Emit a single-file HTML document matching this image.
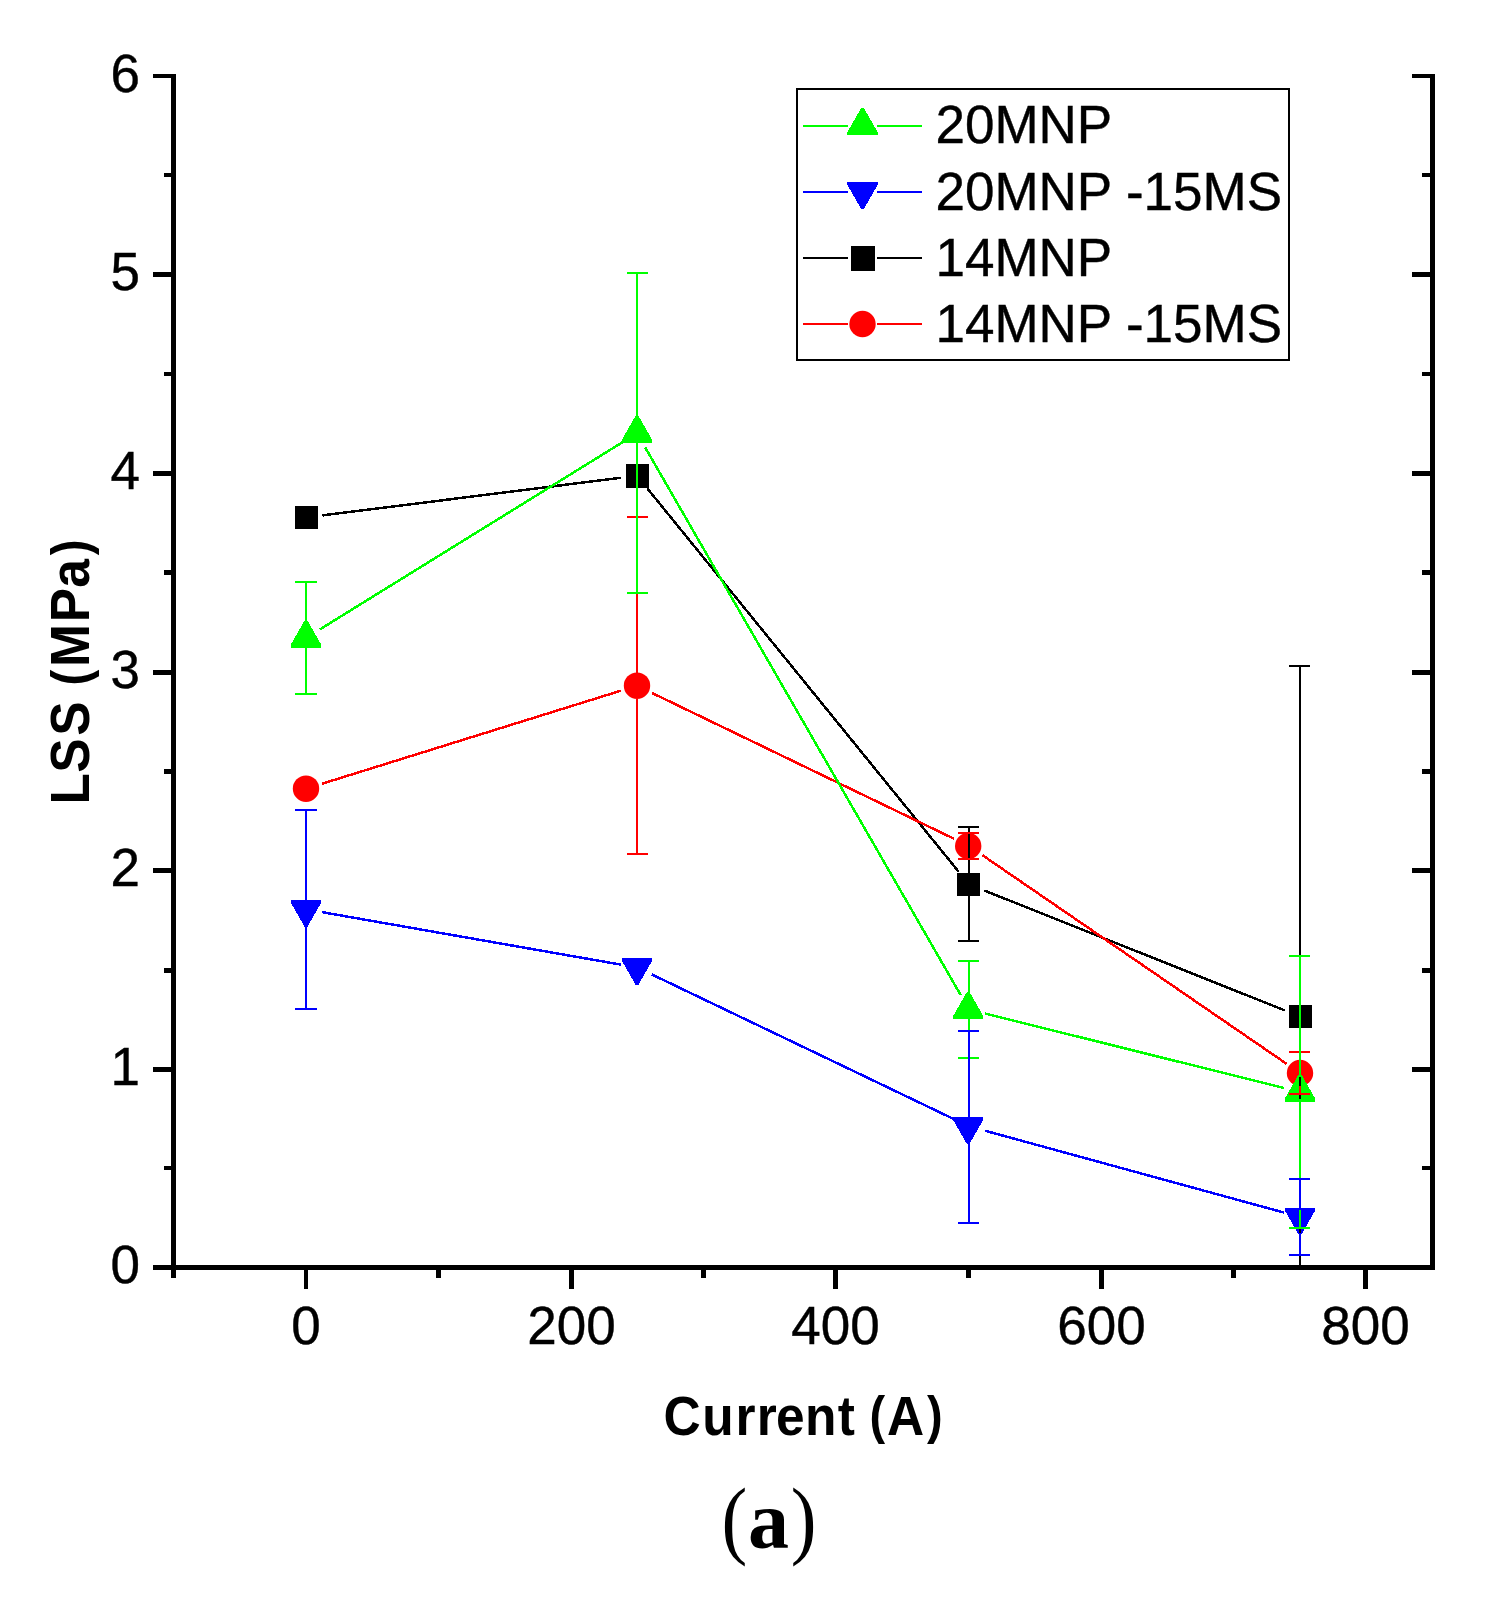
<!DOCTYPE html>
<html lang="en"><head><meta charset="utf-8"><title>LSS vs Current (a)</title>
<style>
html,body{margin:0;padding:0;background:#fff;}
body{width:1492px;height:1600px;overflow:hidden;}
svg{display:block;}
.t{font-family:"Liberation Sans",sans-serif;font-size:53px;fill:#000;stroke:#000;stroke-width:0.4px;}
.tb{font-family:"Liberation Sans",sans-serif;font-size:53px;font-weight:bold;fill:#000;}
.s{font-family:"Liberation Serif",serif;fill:#000;}
</style></head><body>
<svg width="1492" height="1600" viewBox="0 0 1492 1600">
<rect x="0" y="0" width="1492" height="1600" fill="#fff"/>
<defs><clipPath id="cp"><rect x="173.5" y="74.0" width="1259.0" height="1193.5"/></clipPath></defs>
<g shape-rendering="crispEdges" clip-path="url(#cp)">
<g stroke="#000000" stroke-width="2.5" fill="none">
<line x1="322.4" y1="515.4" x2="620.6" y2="477.8"/>
<line x1="647.4" y1="488.5" x2="958.6" y2="871.6"/>
<line x1="984.3" y1="890.5" x2="1284.7" y2="1010.4"/>
</g>
<rect x="295.0" y="506.0" width="23" height="23" fill="#000000"/>
<rect x="626.0" y="464" width="23" height="24" fill="#000000"/>
<rect x="957.2" y="872.9" width="23" height="23" fill="#000000"/>
<rect x="1289.0" y="1005.0" width="23" height="23" fill="#000000"/>
<g stroke="#ff0000" stroke-width="2.5" fill="none">
<line x1="321.8" y1="783.8" x2="621.2" y2="690.6"/>
<line x1="651.9" y1="692.9" x2="954.1" y2="838.8"/>
<line x1="982.6" y1="855.3" x2="1286.4" y2="1063.7"/>
</g>
<circle cx="306.0" cy="788.7" r="13.2" fill="#ff0000" shape-rendering="geometricPrecision"/>
<circle cx="637.0" cy="685.7" r="13.2" fill="#ff0000" shape-rendering="geometricPrecision"/>
<circle cx="968.2" cy="846.0" r="13.2" fill="#ff0000" shape-rendering="geometricPrecision"/>
<circle cx="1300.0" cy="1073.0" r="13.2" fill="#ff0000" shape-rendering="geometricPrecision"/>
<g stroke="#00ff00" stroke-width="2.5" fill="none">
<line x1="320.0" y1="629.3" x2="623.0" y2="441.9"/>
<line x1="645.2" y1="447.5" x2="960.8" y2="995.2"/>
<line x1="985.0" y1="1013.5" x2="1284.0" y2="1088.0"/>
</g>
<polygon points="304.6,620.5 307.4,620.5 321.1,644.5 321.1,647.5 290.9,647.5 290.9,644.5" fill="#00ff00"/>
<polygon points="635.6,415.7 638.4,415.7 652.1,439.7 652.1,442.7 621.9,442.7 621.9,439.7" fill="#00ff00"/>
<polygon points="966.8,992.0 969.6,992.0 983.3,1016.0 983.3,1019.0 953.1,1019.0 953.1,1016.0" fill="#00ff00"/>
<polygon points="1298.6,1074.5 1301.4,1074.5 1315.1,1098.5 1315.1,1101.5 1284.9,1101.5 1284.9,1098.5" fill="#00ff00"/>
<g stroke="#0000ff" stroke-width="2.5" fill="none">
<line x1="322.3" y1="912.2" x2="620.7" y2="964.6"/>
<line x1="651.9" y1="974.5" x2="954.1" y2="1119.2"/>
<line x1="984.9" y1="1130.7" x2="1284.1" y2="1212.6"/>
</g>
<polygon points="290.9,899.9 321.1,899.9 321.1,902.9 307.4,926.9 304.6,926.9 290.9,902.9" fill="#0000ff"/>
<polygon points="621.9,957.9 652.1,957.9 652.1,960.9 638.4,984.9 635.6,984.9 621.9,960.9" fill="#0000ff"/>
<polygon points="953.1,1116.8 983.3,1116.8 983.3,1119.8 969.6,1143.8 966.8,1143.8 953.1,1119.8" fill="#0000ff"/>
<polygon points="1284.9,1207.5 1315.1,1207.5 1315.1,1210.5 1301.4,1234.5 1298.6,1234.5 1284.9,1210.5" fill="#0000ff"/>
<g stroke="#000000" stroke-width="2" fill="none">
<line x1="969.0" y1="827.2" x2="969.0" y2="872.9"/>
<line x1="969.0" y1="895.9" x2="969.0" y2="940.8"/>
<line x1="958.0" y1="827.2" x2="979.0" y2="827.2"/>
<line x1="958.0" y1="940.8" x2="979.0" y2="940.8"/>
<line x1="1300.0" y1="666.0" x2="1300.0" y2="1005.0"/>
<line x1="1300.0" y1="1028.0" x2="1300.0" y2="1367.0"/>
<line x1="1289.0" y1="666.0" x2="1310.0" y2="666.0"/>
<line x1="1289.0" y1="1367.0" x2="1310.0" y2="1367.0"/>
</g>
<g stroke="#ff0000" stroke-width="2" fill="none">
<line x1="637.0" y1="517.0" x2="637.0" y2="672.5"/>
<line x1="637.0" y1="698.9" x2="637.0" y2="854.4"/>
<line x1="627.0" y1="517.0" x2="648.0" y2="517.0"/>
<line x1="627.0" y1="854.4" x2="648.0" y2="854.4"/>
<line x1="958.0" y1="832.8" x2="979.0" y2="832.8"/>
<line x1="958.0" y1="859.2" x2="979.0" y2="859.2"/>
<line x1="1300.0" y1="1052.0" x2="1300.0" y2="1059.8"/>
<line x1="1300.0" y1="1086.2" x2="1300.0" y2="1094.0"/>
<line x1="1289.0" y1="1052.0" x2="1310.0" y2="1052.0"/>
<line x1="1289.0" y1="1094.0" x2="1310.0" y2="1094.0"/>
</g>
<g stroke="#00ff00" stroke-width="2" fill="none">
<line x1="306.0" y1="582.0" x2="306.0" y2="622.7"/>
<line x1="306.0" y1="645.0" x2="306.0" y2="694.0"/>
<line x1="295.0" y1="582.0" x2="317.0" y2="582.0"/>
<line x1="295.0" y1="694.0" x2="317.0" y2="694.0"/>
<line x1="637.0" y1="273.0" x2="637.0" y2="417.9"/>
<line x1="637.0" y1="440.2" x2="637.0" y2="593.0"/>
<line x1="627.0" y1="273.0" x2="648.0" y2="273.0"/>
<line x1="627.0" y1="593.0" x2="648.0" y2="593.0"/>
<line x1="969.0" y1="960.8" x2="969.0" y2="994.2"/>
<line x1="969.0" y1="1016.5" x2="969.0" y2="1058.1"/>
<line x1="958.0" y1="960.8" x2="979.0" y2="960.8"/>
<line x1="958.0" y1="1058.1" x2="979.0" y2="1058.1"/>
<line x1="1300.0" y1="955.9" x2="1300.0" y2="1076.7"/>
<line x1="1300.0" y1="1099.0" x2="1300.0" y2="1228.1"/>
<line x1="1289.0" y1="955.9" x2="1310.0" y2="955.9"/>
<line x1="1289.0" y1="1228.1" x2="1310.0" y2="1228.1"/>
</g>
<g stroke="#0000ff" stroke-width="2" fill="none">
<line x1="306.0" y1="809.9" x2="306.0" y2="902.7"/>
<line x1="306.0" y1="925.0" x2="306.0" y2="1009.0"/>
<line x1="295.0" y1="809.9" x2="317.0" y2="809.9"/>
<line x1="295.0" y1="1009.0" x2="317.0" y2="1009.0"/>
<line x1="969.0" y1="1030.9" x2="969.0" y2="1120.3"/>
<line x1="969.0" y1="1142.6" x2="969.0" y2="1223.0"/>
<line x1="958.0" y1="1030.9" x2="979.0" y2="1030.9"/>
<line x1="958.0" y1="1223.0" x2="979.0" y2="1223.0"/>
<line x1="1300.0" y1="1179.0" x2="1300.0" y2="1210.3"/>
<line x1="1300.0" y1="1232.6" x2="1300.0" y2="1255.0"/>
<line x1="1289.0" y1="1179.0" x2="1310.0" y2="1179.0"/>
<line x1="1289.0" y1="1255.0" x2="1310.0" y2="1255.0"/>
</g>
</g>
<g shape-rendering="crispEdges" fill="#000">
<rect x="171" y="74" width="5" height="1204"/>
<rect x="1430" y="74" width="5" height="1196"/>
<rect x="153" y="1265" width="1282" height="5"/>
<rect x="153" y="74" width="18" height="4"/>
<rect x="1412" y="74" width="18" height="4"/>
<rect x="164" y="173" width="7" height="4"/>
<rect x="1422" y="173" width="8" height="4"/>
<rect x="153" y="272" width="18" height="5"/>
<rect x="1412" y="272" width="18" height="5"/>
<rect x="164" y="372" width="7" height="4"/>
<rect x="1422" y="372" width="8" height="4"/>
<rect x="153" y="471" width="18" height="5"/>
<rect x="1412" y="471" width="18" height="5"/>
<rect x="164" y="570" width="7" height="5"/>
<rect x="1422" y="570" width="8" height="5"/>
<rect x="153" y="670" width="18" height="5"/>
<rect x="1412" y="670" width="18" height="5"/>
<rect x="164" y="769" width="7" height="5"/>
<rect x="1422" y="769" width="8" height="5"/>
<rect x="153" y="868" width="18" height="5"/>
<rect x="1412" y="868" width="18" height="5"/>
<rect x="164" y="968" width="7" height="5"/>
<rect x="1422" y="968" width="8" height="5"/>
<rect x="153" y="1067" width="18" height="5"/>
<rect x="1412" y="1067" width="18" height="5"/>
<rect x="164" y="1166" width="7" height="4"/>
<rect x="1422" y="1166" width="8" height="4"/>
<rect x="304" y="1270" width="4" height="19"/>
<rect x="436" y="1270" width="5" height="8"/>
<rect x="569" y="1270" width="5" height="19"/>
<rect x="701" y="1270" width="5" height="8"/>
<rect x="833" y="1270" width="5" height="19"/>
<rect x="966" y="1270" width="5" height="8"/>
<rect x="1099" y="1270" width="5" height="19"/>
<rect x="1231" y="1270" width="5" height="8"/>
<rect x="1363" y="1270" width="5" height="19"/>
</g>
<text class="t" transform="translate(140,1283.4) scale(1,1.010)" text-anchor="end">0</text>
<text class="t" transform="translate(140,1085.4) scale(1,1.010)" text-anchor="end">1</text>
<text class="t" transform="translate(140,886.4) scale(1,1.010)" text-anchor="end">2</text>
<text class="t" transform="translate(140,688.4) scale(1,1.010)" text-anchor="end">3</text>
<text class="t" transform="translate(140,489.4) scale(1,1.010)" text-anchor="end">4</text>
<text class="t" transform="translate(140,290.4) scale(1,1.010)" text-anchor="end">5</text>
<text class="t" transform="translate(140,91.9) scale(1,1.010)" text-anchor="end">6</text>
<text class="t" transform="translate(306.0,1343.8) scale(1,1.010)" text-anchor="middle">0</text>
<text class="t" transform="translate(571.5,1343.8) scale(1,1.010)" text-anchor="middle">200</text>
<text class="t" transform="translate(835.5,1343.8) scale(1,1.010)" text-anchor="middle">400</text>
<text class="t" transform="translate(1101.5,1343.8) scale(1,1.010)" text-anchor="middle">600</text>
<text class="t" transform="translate(1365.5,1343.8) scale(1,1.010)" text-anchor="middle">800</text>
<text class="tb" transform="translate(0,1434.8) scale(1,1.085)" style="font-size:51.5px"><tspan x="663.45 702.27 735.62 756.72 776.1 805.07 837.83 855">Current </tspan><tspan x="869.5" dy="-2.0" style="font-size:47px">(</tspan><tspan x="886.94" dy="2.0">A</tspan><tspan x="927.0" dy="-2.0" style="font-size:47px">)</tspan></text>
<text class="tb" transform="translate(89,801) rotate(-90) scale(1,1.09)" style="font-size:51.5px"><tspan x="-3.61 28.14 65.24 99.6">LSS </tspan><tspan x="115.63" dy="-0.5" style="font-size:47.5px">(</tspan><tspan x="134.0 178.73 213.16" dy="0.5">MPa</tspan><tspan x="245.8" dy="-0.5" style="font-size:47.5px">)</tspan></text>
<text class="s" y="1547.5"><tspan x="721.6" font-size="86px" textLength="25.77" lengthAdjust="spacingAndGlyphs">(</tspan><tspan x="748.0" font-size="82px" font-weight="bold">a</tspan><tspan x="790.8" font-size="86px" textLength="25.77" lengthAdjust="spacingAndGlyphs">)</tspan></text>
<g shape-rendering="crispEdges">
<rect x="797" y="89" width="492" height="271" fill="#fff" stroke="#000" stroke-width="2"/>
<g stroke="#00ff00" stroke-width="2"><line x1="803" y1="126.0" x2="848" y2="126.0"/><line x1="877" y1="126.0" x2="922" y2="126.0"/></g>
<polygon points="861.1,108.0 863.9,108.0 877.6,132.0 877.6,135.0 847.4,135.0 847.4,132.0" fill="#00ff00"/>
<g stroke="#0000ff" stroke-width="2"><line x1="803" y1="192.0" x2="848" y2="192.0"/><line x1="877" y1="192.0" x2="922" y2="192.0"/></g>
<polygon points="847.4,182.0 877.6,182.0 877.6,185.0 863.9,209.0 861.1,209.0 847.4,185.0" fill="#0000ff"/>
<g stroke="#000000" stroke-width="2"><line x1="803" y1="258.0" x2="848" y2="258.0"/><line x1="877" y1="258.0" x2="922" y2="258.0"/></g>
<rect x="851.0" y="246.0" width="24" height="25" fill="#000000"/>
<g stroke="#ff0000" stroke-width="2"><line x1="803" y1="324.0" x2="848" y2="324.0"/><line x1="877" y1="324.0" x2="922" y2="324.0"/></g>
<circle cx="862.5" cy="324.0" r="13.2" fill="#ff0000" shape-rendering="geometricPrecision"/>
</g>
<text class="t" transform="translate(935.5,143.2) scale(1,1.010)">20MNP</text>
<text class="t" transform="translate(935.5,209.6) scale(1,1.010)">20MNP -15MS</text>
<text class="t" transform="translate(935.5,276.1) scale(1,1.010)">14MNP</text>
<text class="t" transform="translate(935.5,342.1) scale(1,1.010)">14MNP -15MS</text>
</svg></body></html>
